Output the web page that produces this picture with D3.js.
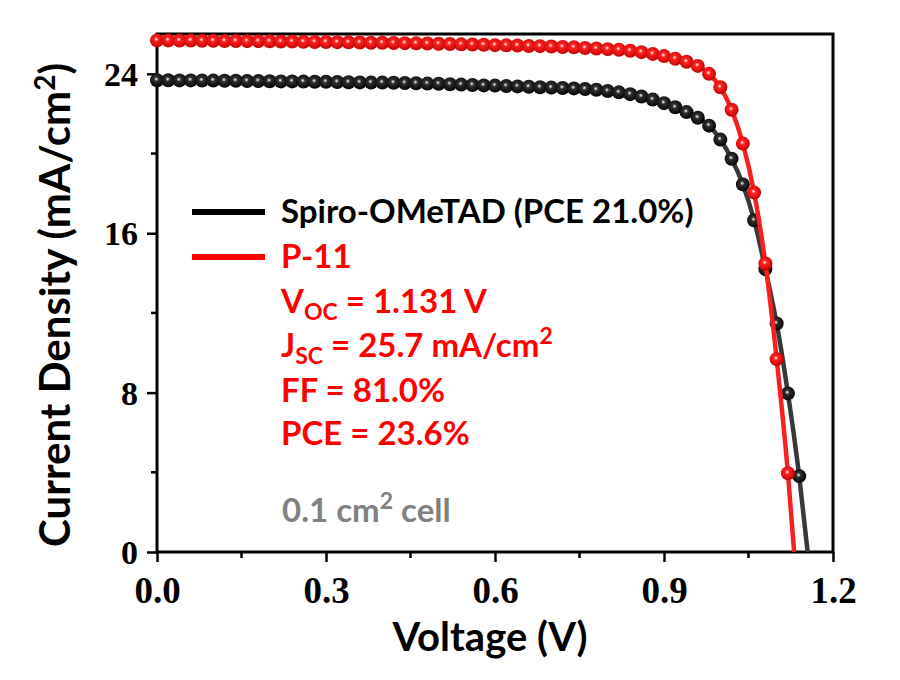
<!DOCTYPE html>
<html>
<head>
<meta charset="utf-8">
<script src="https://cdn.jsdelivr.net/npm/d3@7"></script>
<style>
  body { margin: 0; background: #fff; }
</style>
</head>
<body>
<div id="root"></div>
<script>
// measured J-V points, one marker every 0.02 V
const voltage = [
  0.00, 0.02, 0.04, 0.06, 0.08, 0.10, 0.12, 0.14, 0.16, 0.18,
  0.20, 0.22, 0.24, 0.26, 0.28, 0.30, 0.32, 0.34, 0.36, 0.38,
  0.40, 0.42, 0.44, 0.46, 0.48, 0.50, 0.52, 0.54, 0.56, 0.58,
  0.60, 0.62, 0.64, 0.66, 0.68, 0.70, 0.72, 0.74, 0.76, 0.78,
  0.80, 0.82, 0.84, 0.86, 0.88, 0.90, 0.92, 0.94, 0.96, 0.98,
  1.00, 1.02, 1.04, 1.06, 1.08, 1.10, 1.12, 1.14
];
const spiroJ = [
  23.68, 23.68, 23.67, 23.67, 23.66, 23.66, 23.65, 23.65, 23.64, 23.64,
  23.63, 23.62, 23.62, 23.61, 23.60, 23.60, 23.59, 23.58, 23.57, 23.56,
  23.56, 23.55, 23.54, 23.53, 23.51, 23.50, 23.48, 23.46, 23.44, 23.42,
  23.41, 23.39, 23.37, 23.35, 23.33, 23.31, 23.29, 23.27, 23.24, 23.20,
  23.14, 23.07, 22.98, 22.86, 22.71, 22.53, 22.32, 22.08, 21.80, 21.40,
  20.70, 19.74, 18.45, 16.65, 14.20, 11.47, 7.96, 3.81
];
const p11J = [
  25.68, 25.68, 25.67, 25.67, 25.66, 25.66, 25.65, 25.65, 25.64, 25.64,
  25.63, 25.62, 25.62, 25.61, 25.60, 25.60, 25.59, 25.58, 25.57, 25.56,
  25.56, 25.55, 25.54, 25.53, 25.52, 25.51, 25.50, 25.48, 25.47, 25.46,
  25.44, 25.43, 25.42, 25.40, 25.39, 25.37, 25.35, 25.33, 25.30, 25.27,
  25.24, 25.21, 25.16, 25.09, 25.00, 24.89, 24.76, 24.61, 24.40, 24.00,
  23.33, 22.20, 20.50, 18.04, 14.48, 9.68, 3.95
];
// open-circuit voltages where the fitted lines meet J = 0
const spiroVoc = 1.155;
const p11Voc = 1.131;

const xTicks = [0, 0.3, 0.6, 0.9, 1.2];
const xMinor = [0.15, 0.45, 0.75, 1.05];
const yTicks = [0, 8, 16, 24];
const yMinor = [4, 12, 20];

const width = 900;
const height = 680;
const margin = {top: 34, right: 67, bottom: 128, left: 157};

const x = d3.scaleLinear().domain([0, 1.2]).range([margin.left, width - margin.right]);
const y = d3.scaleLinear().domain([0, 26]).range([height - margin.bottom, margin.top]);

const svg = d3.select('#root')
    .append('svg')
    .attr('width', width)
    .attr('height', height);

// shaded ball markers
const defs = svg.append('defs');
const ball = (id, mid, edge) => {
    const g = defs.append('radialGradient')
        .attr('id', id)
        .attr('cx', 0.45).attr('cy', 0.42).attr('r', 0.6);
    g.append('stop').attr('offset', '0%').attr('stop-color', '#ffffff');
    g.append('stop').attr('offset', '26%').attr('stop-color', mid);
    g.append('stop').attr('offset', '100%').attr('stop-color', edge);
};
ball('ballBlack', '#303030', '#000000');
ball('ballRed', '#ff2222', '#c00000');

// axes
const xAxis = d3.axisBottom(x).tickValues(xTicks).tickFormat(d3.format('.1f')).tickSize(10).tickSizeOuter(0);
const yAxis = d3.axisLeft(y).tickValues(yTicks).tickFormat(d3.format('d')).tickSize(10).tickSizeOuter(0);

const gx = svg.append('g')
    .attr('transform', `translate(0,${y(0)})`)
    .call(xAxis);
gx.selectAll('text')
    .attr('dy', '1.02em')
    .style('font-family', '"Liberation Serif", serif')
    .style('font-weight', 'bold')
    .style('font-size', '37px');

const gy = svg.append('g')
    .attr('transform', `translate(${x(0)},0)`)
    .call(yAxis);
gy.selectAll('text')
    .attr('dy', '0.34em')
    .attr('x', -19)
    .style('font-family', '"Liberation Serif", serif')
    .style('font-weight', 'bold')
    .style('font-size', '34px');

[gx, gy].forEach(g => {
    g.select('.domain').remove();
    g.selectAll('line').attr('stroke', '#000').attr('stroke-width', 2.5);
});

svg.append('g').selectAll('line')
    .data(xMinor)
    .join('line')
    .attr('x1', d => x(d)).attr('x2', d => x(d))
    .attr('y1', y(0)).attr('y2', y(0) + 6)
    .attr('stroke', '#000').attr('stroke-width', 2.5);

svg.append('g').selectAll('line')
    .data(yMinor)
    .join('line')
    .attr('y1', d => y(d)).attr('y2', d => y(d))
    .attr('x1', x(0)).attr('x2', x(0) - 6)
    .attr('stroke', '#000').attr('stroke-width', 2.5);

// frame
svg.append('rect')
    .attr('x', x(0)).attr('y', y(26))
    .attr('width', x(1.2) - x(0))
    .attr('height', y(0) - y(26))
    .attr('fill', 'none')
    .attr('stroke', '#000')
    .attr('stroke-width', 3);

// series
const series = [
    {name: 'Spiro-OMeTAD', j: spiroJ, voc: spiroVoc, line: '#383838', fill: 'url(#ballBlack)'},
    {name: 'P-11', j: p11J, voc: p11Voc, line: '#f52020', fill: 'url(#ballRed)'}
];

const line = d3.line()
    .x(d => x(d[0]))
    .y(d => y(d[1]))
    .curve(d3.curveMonotoneX);

series.forEach(s => {
    const pts = s.j.map((v, i) => [voltage[i], v]);
    svg.append('path')
        .datum(pts.concat([[s.voc, 0]]))
        .attr('d', line)
        .attr('fill', 'none')
        .attr('stroke', s.line)
        .attr('stroke-width', 4.5);
    svg.append('g').selectAll('circle')
        .data(pts)
        .join('circle')
        .attr('cx', d => x(d[0]))
        .attr('cy', d => y(d[1]))
        .attr('r', 7)
        .attr('fill', s.fill);
});

// axis titles
const sans = 'Lato, "Open Sans", sans-serif';

svg.append('text')
    .attr('x', 490).attr('y', 651)
    .attr('text-anchor', 'middle')
    .style('font-family', sans)
    .style('font-weight', 'bold')
    .style('font-size', '40px')
    .text('Voltage (V)');

const yTitle = svg.append('text')
    .attr('transform', 'translate(70,305) rotate(-90)')
    .attr('text-anchor', 'middle')
    .style('font-family', sans)
    .style('font-weight', 'bold')
    .style('font-size', '42px');
yTitle.append('tspan').text('Current Density (mA/cm');
yTitle.append('tspan').attr('dy', -15).style('font-size', '28px').text('2');
yTitle.append('tspan').attr('dy', 15).text(')');

// legend
const legend = svg.append('g')
    .style('font-family', sans)
    .style('font-weight', 'bold')
    .style('font-size', '33px');

legend.append('line')
    .attr('x1', 192).attr('x2', 265).attr('y1', 212).attr('y2', 212)
    .attr('stroke', '#000').attr('stroke-width', 6);
legend.append('line')
    .attr('x1', 192).attr('x2', 265).attr('y1', 257).attr('y2', 257)
    .attr('stroke', '#ff0000').attr('stroke-width', 6);

legend.append('text').attr('x', 281).attr('y', 223).attr('fill', '#000')
    .text('Spiro-OMeTAD (PCE 21.0%)');

const red = '#ff0000';
const rows = [
    {y: 268, parts: [['P-11']]},
    {y: 313, parts: [['V'], ['OC', 'sub'], [' = 1.131 V']]},
    {y: 357, parts: [['J'], ['SC', 'sub'], [' = 25.7 mA/cm'], ['2', 'sup']]},
    {y: 402, parts: [['FF = 81.0%']]},
    {y: 445, parts: [['PCE = 23.6%']]}
];

const writeParts = (t, parts) => {
    let shift = 0;
    parts.forEach(([txt, kind]) => {
        const target = kind === 'sub' ? 7 : kind === 'sup' ? -13 : 0;
        t.append('tspan')
            .attr('dy', target - shift)
            .style('font-size', kind ? '23px' : null)
            .text(txt);
        shift = target;
    });
};

rows.forEach(r => {
    const t = legend.append('text').attr('x', 281).attr('y', r.y).attr('fill', red);
    writeParts(t, r.parts);
});

const cell = legend.append('text').attr('x', 282).attr('y', 522).attr('fill', '#808080');
writeParts(cell, [['0.1 cm'], ['2', 'sup'], [' cell']]);
</script>
</body>
</html>
